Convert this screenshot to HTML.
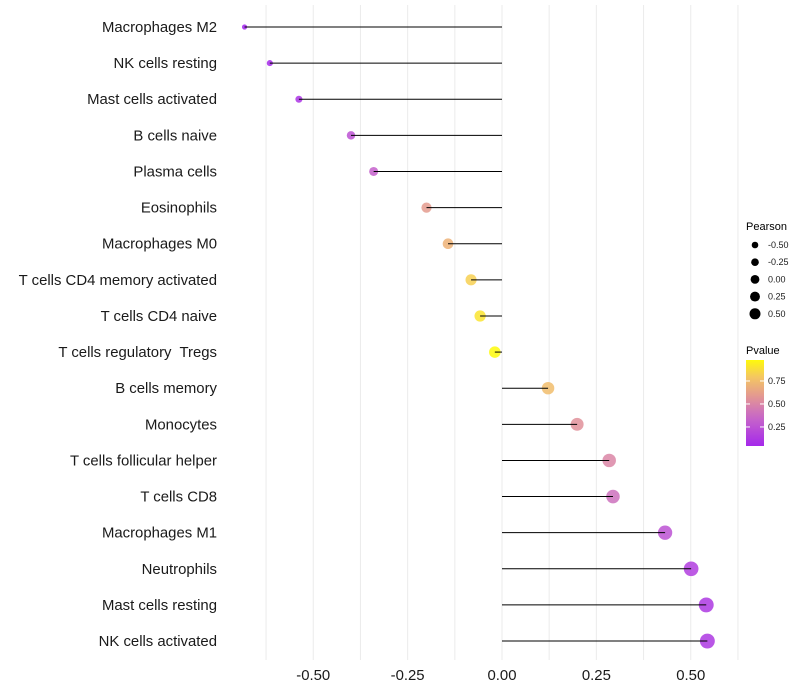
<!DOCTYPE html>
<html><head><meta charset="utf-8"><style>
body{margin:0;background:#fff;font-family:"Liberation Sans",sans-serif}
svg{display:block}
</style></head><body>
<svg id="chart" width="800" height="700">
<g id="grid"></g><g id="marks"></g><g id="ylabels"></g><g id="xlabels"></g><g id="legend"></g>
</svg>
<script>
const categories=["Macrophages M2","NK cells resting","Mast cells activated","B cells naive","Plasma cells","Eosinophils","Macrophages M0","T cells CD4 memory activated","T cells CD4 naive","T cells regulatory  Tregs","B cells memory","Monocytes","T cells follicular helper","T cells CD8","Macrophages M1","Neutrophils","Mast cells resting","NK cells activated"];
const pearson=[-0.682,-0.615,-0.538,-0.40,-0.34,-0.20,-0.143,-0.082,-0.058,-0.019,0.122,0.199,0.284,0.294,0.432,0.501,0.541,0.544];
const pvalue=[0.02,0.05,0.1,0.25,0.32,0.6,0.7,0.83,0.9,0.98,0.75,0.55,0.5,0.4,0.25,0.15,0.12,0.12];
const xTicks=[-0.5,-0.25,0,0.25,0.5];
const xTickLabels=["-0.50","-0.25","0.00","0.25","0.50"];
const sizeLegend=[-0.5,-0.25,0,0.25,0.5];
const sizeLegendLabels=["-0.50","-0.25","0.00","0.25","0.50"];
const pLegend=[0.25,0.5,0.75];

const NS="http://www.w3.org/2000/svg";
const x=v=>502+v*377.5;
const y=i=>27+i*36.12;
const r=v=>Math.sqrt(34+40*v);
const rl=v=>4.4+v*2.2;
const stops=[[0,[160,32,240]],[0.35,[199,102,200]],[0.55,[224,144,154]],[0.8,[245,200,96]],[1,[255,255,0]]];
function col(p){p=Math.max(0,Math.min(1,p));for(let k=1;k<stops.length;k++){if(p<=stops[k][0]){const a=stops[k-1],b=stops[k],t=(p-a[0])/(b[0]-a[0]);return "rgb("+a[1].map((c,j)=>Math.round(c+(b[1][j]-c)*t)).join(",")+")";}}return "rgb(255,255,0)";}
function el(t,a,parent){const e=document.createElementNS(NS,t);for(const k in a)e.setAttribute(k,a[k]);parent.appendChild(e);return e;}
const grid=document.getElementById('grid'),marks=document.getElementById('marks'),yl=document.getElementById('ylabels'),xl=document.getElementById('xlabels'),lg=document.getElementById('legend');
for(let v=-0.625;v<=0.63;v+=0.125){const g=el('line',{x1:x(v),x2:x(v),y1:5,y2:660,stroke:'#ebebeb','stroke-width':1},grid);

}
categories.forEach((c,i)=>{
const pt=el('circle',{cx:x(pearson[i]),cy:y(i),r:r(pearson[i]),fill:col(pvalue[i]),'fill-opacity':0.85},marks);


const ln=el('line',{x1:x(0),x2:x(pearson[i]),y1:y(i),y2:y(i),stroke:'#000','stroke-width':1},marks);


const t=el('text',{x:217,y:y(i)+5,'text-anchor':'end','font-size':14.9,fill:'#1a1a1a','xml:space':'preserve',style:'white-space:pre'},yl);t.textContent=c;


});
xTicks.forEach((v,i)=>{const t=el('text',{x:x(v),y:680,'text-anchor':'middle','font-size':14.9,fill:'#1a1a1a'},xl);t.textContent=xTickLabels[i];

});
let t=el('text',{x:746,y:230,'font-size':11,fill:'#000'},lg);t.textContent='Pearson';


sizeLegend.forEach((v,i)=>{const yy=245+i*17.2;
const c=el('circle',{cx:755,cy:yy,r:rl(v),fill:'#000'},lg);


const tt=el('text',{x:768,y:yy+3,'font-size':9,fill:'#1a1a1a'},lg);tt.textContent=sizeLegendLabels[i];

});
t=el('text',{x:746,y:354,'font-size':11,fill:'#000'},lg);t.textContent='Pvalue';


const defs=el('defs',{},lg);const gr=el('linearGradient',{id:'pg',x1:0,y1:1,x2:0,y2:0},defs);
for(let k=0;k<=10;k++){const p=0.043+k/10*(0.978-0.043);el('stop',{offset:k/10,'stop-color':col(p)},gr);}
const bar=el('rect',{x:746,y:360,width:18,height:86,fill:'url(#pg)'},lg);


const py=p=>446-(p-0.043)/(0.978-0.043)*86;
pLegend.forEach(p=>{el('line',{x1:746,x2:750,y1:py(p),y2:py(p),stroke:'#fff'},lg);el('line',{x1:760,x2:764,y1:py(p),y2:py(p),stroke:'#fff'},lg);
const tt=el('text',{x:768,y:py(p)+3,'font-size':9,fill:'#1a1a1a'},lg);tt.textContent=p.toFixed(2);

});
</script>
</body></html>
